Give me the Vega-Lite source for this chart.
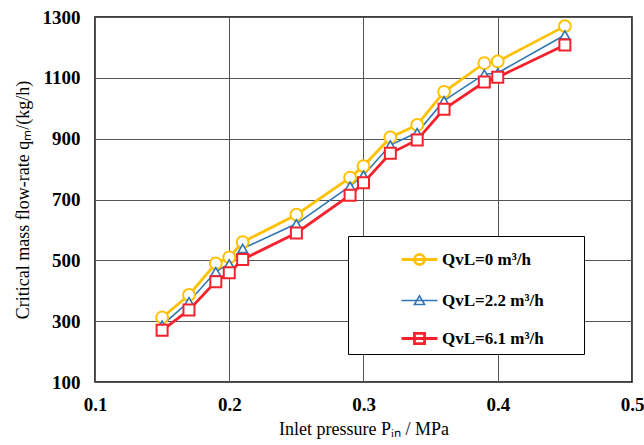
{
  "$schema": "https://vega.github.io/schema/vega-lite/v6.json",
  "autosize": {"type": "none"},
  "padding": {"left": 95, "top": 17, "right": 12, "bottom": 63},
  "width": 537,
  "height": 365,
  "background": "white",
  "config": {
    "view": {"stroke": "black", "strokeWidth": 1.5},
    "axis": {
      "grid": true,
      "gridColor": "#555555",
      "gridWidth": 1,
      "domain": false,
      "ticks": false,
      "labelFlush": false,
      "labelFont": "Liberation Serif",
      "labelFontSize": 19,
      "labelFontWeight": "bold",
      "labelColor": "black",
      "titleFont": "Liberation Serif",
      "titleFontSize": 18,
      "titleFontWeight": "normal",
      "titleColor": "black"
    }
  },
  "data": {
    "values": [
      {"p": 0.15, "q": 312, "series": "QvL=0 m³/h"},
      {"p": 0.17, "q": 386, "series": "QvL=0 m³/h"},
      {"p": 0.19, "q": 490, "series": "QvL=0 m³/h"},
      {"p": 0.20, "q": 510, "series": "QvL=0 m³/h"},
      {"p": 0.21, "q": 560, "series": "QvL=0 m³/h"},
      {"p": 0.25, "q": 650, "series": "QvL=0 m³/h"},
      {"p": 0.29, "q": 772, "series": "QvL=0 m³/h"},
      {"p": 0.30, "q": 810, "series": "QvL=0 m³/h"},
      {"p": 0.32, "q": 904, "series": "QvL=0 m³/h"},
      {"p": 0.34, "q": 945, "series": "QvL=0 m³/h"},
      {"p": 0.36, "q": 1054, "series": "QvL=0 m³/h"},
      {"p": 0.39, "q": 1148, "series": "QvL=0 m³/h"},
      {"p": 0.40, "q": 1154, "series": "QvL=0 m³/h"},
      {"p": 0.45, "q": 1270, "series": "QvL=0 m³/h"},
      {"p": 0.15, "q": 287, "series": "QvL=2.2 m³/h"},
      {"p": 0.17, "q": 364, "series": "QvL=2.2 m³/h"},
      {"p": 0.19, "q": 463, "series": "QvL=2.2 m³/h"},
      {"p": 0.20, "q": 488, "series": "QvL=2.2 m³/h"},
      {"p": 0.21, "q": 539, "series": "QvL=2.2 m³/h"},
      {"p": 0.25, "q": 620, "series": "QvL=2.2 m³/h"},
      {"p": 0.29, "q": 744, "series": "QvL=2.2 m³/h"},
      {"p": 0.30, "q": 780, "series": "QvL=2.2 m³/h"},
      {"p": 0.32, "q": 879, "series": "QvL=2.2 m³/h"},
      {"p": 0.34, "q": 920, "series": "QvL=2.2 m³/h"},
      {"p": 0.36, "q": 1025, "series": "QvL=2.2 m³/h"},
      {"p": 0.39, "q": 1112, "series": "QvL=2.2 m³/h"},
      {"p": 0.40, "q": 1116, "series": "QvL=2.2 m³/h"},
      {"p": 0.45, "q": 1241, "series": "QvL=2.2 m³/h"},
      {"p": 0.15, "q": 270, "series": "QvL=6.1 m³/h"},
      {"p": 0.17, "q": 337, "series": "QvL=6.1 m³/h"},
      {"p": 0.19, "q": 430, "series": "QvL=6.1 m³/h"},
      {"p": 0.20, "q": 459, "series": "QvL=6.1 m³/h"},
      {"p": 0.21, "q": 503, "series": "QvL=6.1 m³/h"},
      {"p": 0.25, "q": 590, "series": "QvL=6.1 m³/h"},
      {"p": 0.29, "q": 714, "series": "QvL=6.1 m³/h"},
      {"p": 0.30, "q": 755, "series": "QvL=6.1 m³/h"},
      {"p": 0.32, "q": 852, "series": "QvL=6.1 m³/h"},
      {"p": 0.34, "q": 896, "series": "QvL=6.1 m³/h"},
      {"p": 0.36, "q": 997, "series": "QvL=6.1 m³/h"},
      {"p": 0.39, "q": 1086, "series": "QvL=6.1 m³/h"},
      {"p": 0.40, "q": 1102, "series": "QvL=6.1 m³/h"},
      {"p": 0.45, "q": 1208, "series": "QvL=6.1 m³/h"}
    ]
  },
  "encoding": {
    "x": {
      "field": "p", "type": "quantitative",
      "scale": {"domain": [0.1, 0.5], "nice": false, "zero": false},
      "axis": {"values": [0.1, 0.2, 0.3, 0.4, 0.5], "format": ".1f", "labelPadding": 13, "title": "Inlet pressure Pᵢₙ / MPa", "titlePadding": 6}
    },
    "y": {
      "field": "q", "type": "quantitative",
      "scale": {"domain": [100, 1300], "nice": false, "zero": false},
      "axis": {"values": [100, 300, 500, 700, 900, 1100, 1300], "format": "d", "labelPadding": 15, "title": "Critical mass flow-rate qₘ/(kg/h)", "titlePadding": 10}
    }
  },
  "layer": [
    {
      "mark": {"type": "line"},
      "encoding": {
        "color": {
          "field": "series", "type": "nominal",
          "scale": {"domain": ["QvL=0 m³/h", "QvL=2.2 m³/h", "QvL=6.1 m³/h"], "range": ["#FFC000", "#2E75B6", "#F5222D"]},
          "legend": {
            "orient": "none",
            "legendX": 253,
            "legendY": 219,
            "title": null,
            "direction": "vertical",
            "strokeColor": "black",
            "fillColor": "white",
            "padding": 4,
            "symbolOffset": 48,
            "symbolSize": 1296,
            "symbolType": "M-1,0H1",
            "labelFont": "Liberation Serif",
            "labelFontSize": 17,
            "labelFontWeight": "bold",
            "labelColor": "black",
            "labelOffset": 3,
            "labelLimit": 300,
            "rowPadding": 10.5,
            "labelExpr": "datum.label + '\u2800\u2800\u2800'",
            "encode": {
              "symbols": {
                "update": {
                  "shape": {"signal": "datum.value == 'QvL=0 m³/h' ? 'M-1,0H-0.28M0.28,0H1M0.28,0A0.28,0.28 0 1,1 -0.28,0A0.28,0.28 0 1,1 0.28,0M0.28,0H-0.28' : datum.value == 'QvL=2.2 m³/h' ? 'M-1,0H1M-0.28,0.22L0,-0.26L0.28,0.22Z' : 'M-1,0H1M-0.28,-0.28H0.28V0.28H-0.28Z'"},
                  "strokeWidth": {"signal": "datum.value == 'QvL=2.2 m³/h' ? 1.5 : 2.6"},
                  "fill": {"value": "transparent"}
                }
              }
            }
          }
        },
        "strokeWidth": {
          "field": "series", "type": "nominal",
          "scale": {"type": "ordinal", "domain": ["QvL=0 m³/h", "QvL=2.2 m³/h", "QvL=6.1 m³/h"], "range": [2.8, 1.6, 2.8]},
          "legend": null
        }
      }
    },
    {
      "transform": [{"filter": "datum.series == 'QvL=0 m³/h'"}],
      "mark": {"type": "point", "shape": "circle", "size": 140, "filled": false, "fill": "white", "fillOpacity": 1, "opacity": 1, "stroke": "#FFC000", "strokeWidth": 2}
    },
    {
      "transform": [{"filter": "datum.series == 'QvL=2.2 m³/h'"}],
      "mark": {"type": "point", "shape": "triangle-up", "size": 90, "filled": false, "fill": "white", "fillOpacity": 1, "opacity": 1, "stroke": "#2E75B6", "strokeWidth": 1.6}
    },
    {
      "transform": [{"filter": "datum.series == 'QvL=6.1 m³/h'"}],
      "mark": {"type": "point", "shape": "square", "size": 121, "filled": false, "fill": "white", "fillOpacity": 1, "opacity": 1, "stroke": "#F5222D", "strokeWidth": 2}
    }
  ]
}
